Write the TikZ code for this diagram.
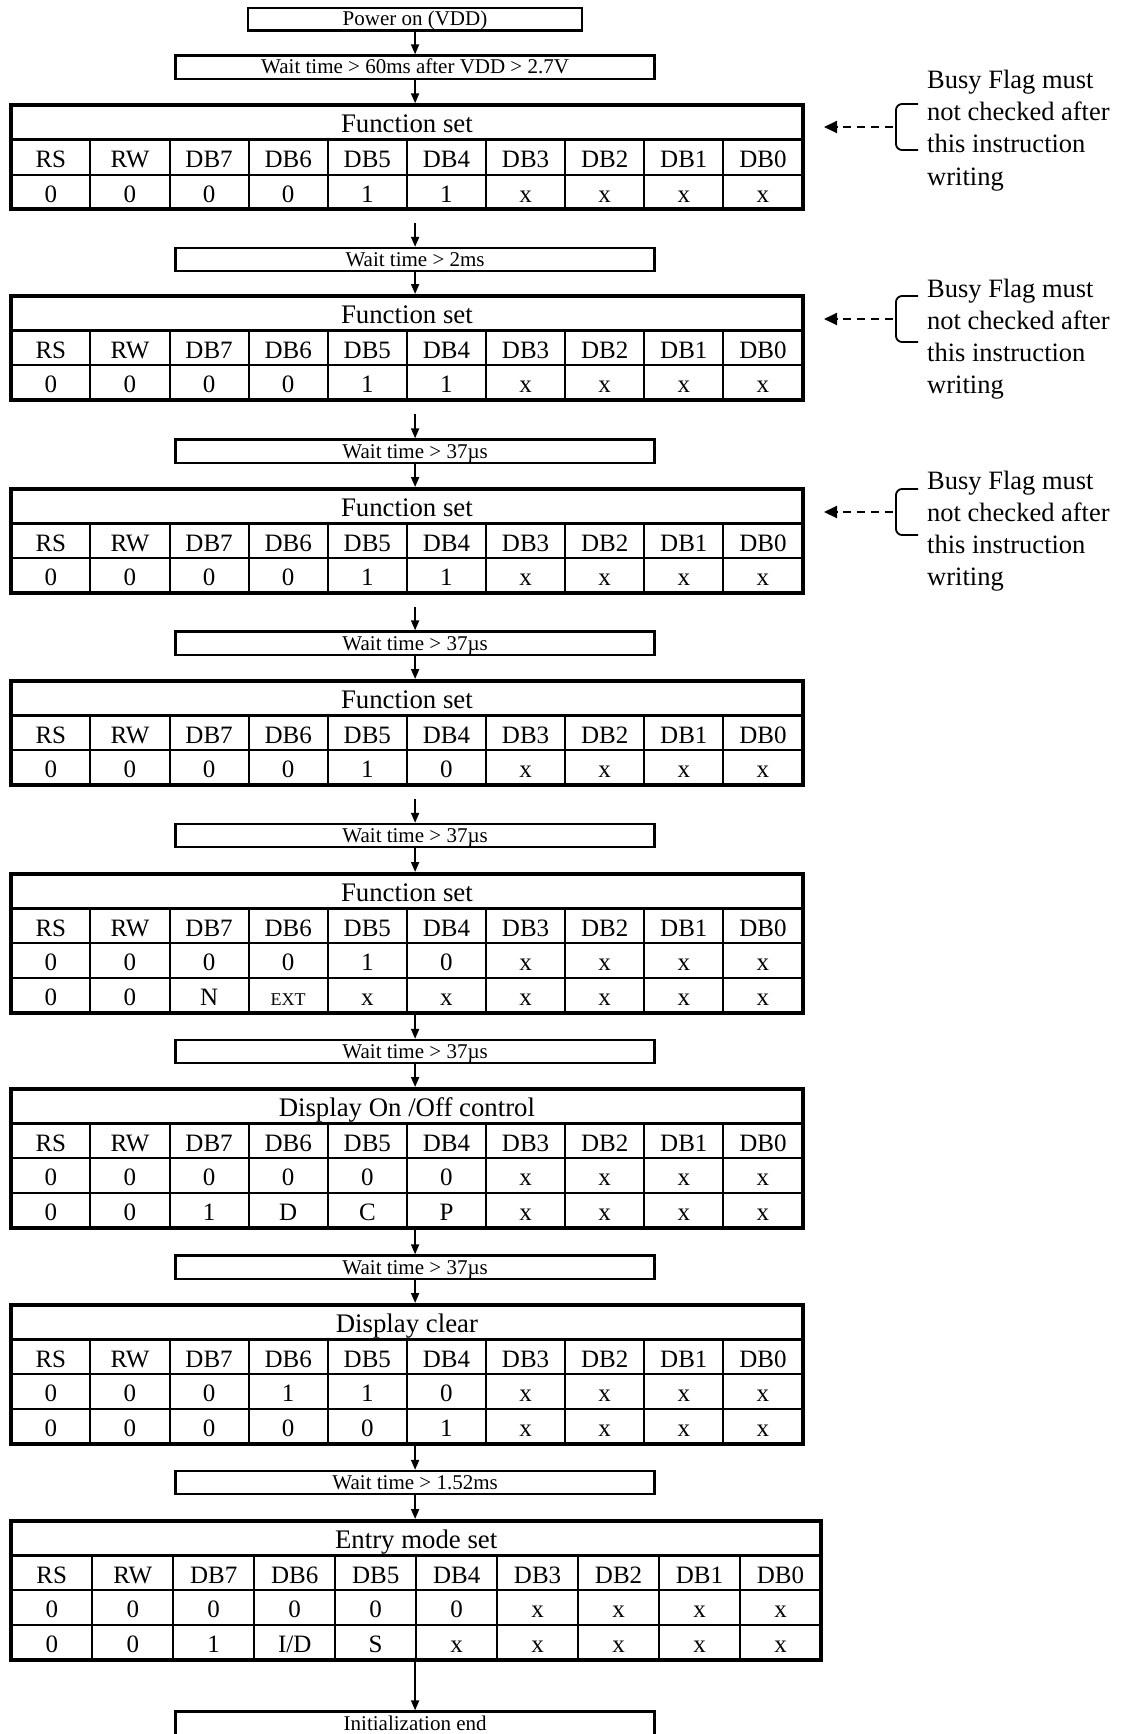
\documentclass[tikz,border=0pt]{standalone}
\usepackage{fontspec}
\setmainfont{Liberation Serif}
\usetikzlibrary{arrows.meta,calc}
\tikzset{
  boxline/.style={draw, line width=2.3pt, inner sep=0pt, font=\fontsize{21}{24}\selectfont},
  waitbox/.style={boxline, minimum width=479pt, text height=18.5pt, text depth=4.8pt},
  tabframe/.style={draw, line width=4pt, inner sep=0pt},
  gridline/.style={line width=2pt},
  titleline/.style={line width=3pt},
  flow/.style={line width=1.8pt, -{Triangle[length=10pt,width=8pt]}},
  notearrow/.style={line width=2pt, dash pattern=on 8pt off 6pt, -{Triangle[length=13pt,width=12pt]}},
  bracestyle/.style={line width=1.8pt, rounded corners=6pt},
  cell/.style={anchor=base, inner sep=0pt, font=\fontsize{25}{28}\selectfont},
  titlecell/.style={anchor=base, inner sep=0pt, font=\fontsize{26.8}{30}\selectfont},
  notetext/.style={anchor=base west, inner sep=0pt, font=\fontsize{26.5}{32}\selectfont},
}
\newcommand\smallext{{\fontsize{18}{20}\selectfont EXT}}
% #1 name, #2 top, #3 column width, #4 number of rows, #5 title
\newcommand\regtab[5]{%
  \node[tabframe, minimum width={10*#3pt}, minimum height={#4*34.7pt}] (#1) at ({11.3+5*#3},{#2+#4*17.35}) {};
  \draw[titleline] (11.3,{#2+34.7}) -- ({11.3+10*#3},{#2+34.7});
  \pgfmathtruncatemacro\lastrow{#4-1}%
  \foreach \k in {2,...,\lastrow} \draw[gridline] (11.3,{#2+\k*34.7}) -- ({11.3+10*#3},{#2+\k*34.7});
  \foreach \k in {1,...,9} \draw[gridline] ({11.3+\k*#3},{#2+34.7}) -- ({11.3+\k*#3},{#2+#4*34.7});
  \node[titlecell] (#1-title) at ({11.3+5*#3},{#2+27.5}) {#5};
  \foreach \lab [count=\cc] in {RS,RW,DB7,DB6,DB5,DB4,DB3,DB2,DB1,DB0}
    \node[cell] (#1-h\cc) at ({11.3+(\cc-0.5)*#3},{#2+34.7+27.5}) {\lab};
}
% #1 name, #2 top, #3 column width, #4 row index, #5 values
\newcommand\regrow[5]{%
  \foreach \v [count=\cc] in {#5}
    \node[cell] (#1-r#4-\cc) at ({11.3+(\cc-0.5)*#3},{#2+#4*34.7+27.5}) {\v};
}
% #1 name, #2 table node, #3 arrow y, #4 first baseline
\newcommand\busynote[4]{%
  \coordinate (#1-b) at (893,#3);
  \draw[bracestyle] (#1-b) ++(25,-23) -- ++(-22,0) -- ++(0,46) -- ++(22,0);
  \draw[notearrow, shorten >=19.5pt] (#1-b) -- (#1-b -| #2.east);
  \foreach \ln [count=\cc] in {Busy Flag must,not checked after,this instruction,writing}
    \node[notetext] (#1-l\cc) at (927,{#4+(\cc-1)*32}) {\ln};
}
\begin{document}
\begin{tikzpicture}[x=1pt,y=-1pt]
\useasboundingbox (0,0) rectangle (1129,1734);
\fill[white] (0,0) rectangle (1129,1734);

\node[boxline, minimum width=334pt, text height=18pt, text depth=4.8pt] (p) at (415,19.1) {Power on (VDD)};
\node[waitbox] (w1) at (415.1,67.15) {Wait time > 60ms after VDD > 2.7V};
\node[waitbox] (w2) at (415.1,259.65) {Wait time > 2ms};
\node[waitbox] (w3) at (415.1,451.15) {Wait time > 37µs};
\node[waitbox] (w4) at (415.1,643.15) {Wait time > 37µs};
\node[waitbox] (w5) at (415.1,835.65) {Wait time > 37µs};
\node[waitbox] (w6) at (415.1,1051.65) {Wait time > 37µs};
\node[waitbox] (w7) at (415.1,1267.15) {Wait time > 37µs};
\node[waitbox] (w8) at (415.1,1482.65) {Wait time > 1.52ms};
\node[boxline, minimum width=479pt, text height=18.5pt, text depth=8pt] (e) at (415.1,1724.75) {Initialization end};

\regtab{t1}{105.3}{79.12}{3}{Function set}
\regrow{t1}{105.3}{79.12}{2}{0,0,0,0,1,1,x,x,x,x}
\regtab{t2}{296}{79.12}{3}{Function set}
\regrow{t2}{296}{79.12}{2}{0,0,0,0,1,1,x,x,x,x}
\regtab{t3}{489}{79.12}{3}{Function set}
\regrow{t3}{489}{79.12}{2}{0,0,0,0,1,1,x,x,x,x}
\regtab{t4}{681}{79.12}{3}{Function set}
\regrow{t4}{681}{79.12}{2}{0,0,0,0,1,0,x,x,x,x}
\regtab{t5}{874}{79.12}{4}{Function set}
\regrow{t5}{874}{79.12}{2}{0,0,0,0,1,0,x,x,x,x}
\regrow{t5}{874}{79.12}{3}{0,0,N,\smallext,x,x,x,x,x,x}
\regtab{t6}{1089}{79.12}{4}{Display On /Off control}
\regrow{t6}{1089}{79.12}{2}{0,0,0,0,0,0,x,x,x,x}
\regrow{t6}{1089}{79.12}{3}{0,0,1,D,C,P,x,x,x,x}
\regtab{t7}{1305}{79.12}{4}{Display clear}
\regrow{t7}{1305}{79.12}{2}{0,0,0,1,1,0,x,x,x,x}
\regrow{t7}{1305}{79.12}{3}{0,0,0,0,0,1,x,x,x,x}
\regtab{t8}{1521}{80.97}{4}{Entry mode set}
\regrow{t8}{1521}{80.97}{2}{0,0,0,0,0,0,x,x,x,x}
\regrow{t8}{1521}{80.97}{3}{0,0,1,I/D,S,x,x,x,x,x}

\draw[flow] (p.south) -- (w1.north);
\draw[flow] (w1.south) -- (w1.south |- t1.north);
\draw[flow, shorten <=11.5pt] (w2.north |- t1.south) -- (w2.north);
\draw[flow] (w2.south) -- (w2.south |- t2.north);
\draw[flow, shorten <=11.5pt] (w3.north |- t2.south) -- (w3.north);
\draw[flow] (w3.south) -- (w3.south |- t3.north);
\draw[flow, shorten <=11.5pt] (w4.north |- t3.south) -- (w4.north);
\draw[flow] (w4.south) -- (w4.south |- t4.north);
\draw[flow, shorten <=11.5pt] (w5.north |- t4.south) -- (w5.north);
\draw[flow] (w5.south) -- (w5.south |- t5.north);
\draw[flow] (w6.north |- t5.south) -- (w6.north);
\draw[flow] (w6.south) -- (w6.south |- t6.north);
\draw[flow] (w7.north |- t6.south) -- (w7.north);
\draw[flow] (w7.south) -- (w7.south |- t7.north);
\draw[flow] (w8.north |- t7.south) -- (w8.north);
\draw[flow] (w8.south) -- (w8.south |- t8.north);
\draw[flow] (e.north |- t8.south) -- (e.north);

\busynote{n1}{t1}{127}{89}
\busynote{n2}{t2}{319}{297}
\busynote{n3}{t3}{512}{489}
\end{tikzpicture}
\end{document}
